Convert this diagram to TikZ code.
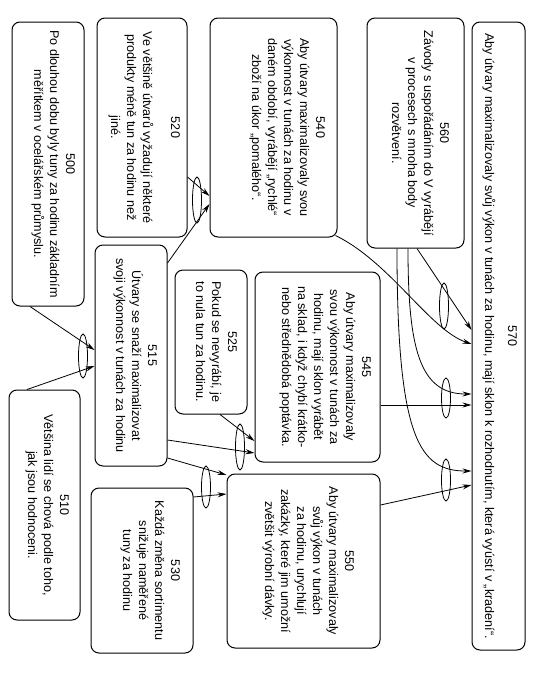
\documentclass[tikz,border=0pt]{standalone}
\usepackage{fontspec}
\setmainfont{Liberation Sans}
\usetikzlibrary{shapes.geometric,arrows.meta,calc}
\begin{document}
\begin{tikzpicture}[x=1pt,y=-1pt,
  box/.style={draw, rounded corners=8pt, line width=1pt, inner sep=0pt},
  txt/.style={rotate=-90, anchor=north, align=center, inner sep=0pt, font=\fontsize{12.6}{16}\selectfont},
  link/.style={line width=0.8pt, -{Stealth[length=9pt,width=5pt]}},
  andel/.style={ellipse, draw, line width=0.8pt, inner sep=0pt, minimum width=9pt}]
\fill[white] (0,0) rectangle (537,673);
\useasboundingbox (0,0) rectangle (537,673);
% boxes
\node[box, minimum width=72pt, minimum height=284pt] (b500) at (48,164) {};
\node[box, minimum width=71pt, minimum height=230pt] (b510) at (44.5,505) {};
\node[box, minimum width=72pt, minimum height=221pt] (b515) at (131,355.5) {};
\node[box, minimum width=90pt, minimum height=219pt] (b520) at (142,127.5) {};
\node[box, minimum width=72pt, minimum height=144pt] (b525) at (211,342) {};
\node[box, minimum width=102pt, minimum height=165pt] (b530) at (142,570.5) {};
\node[box, minimum width=127pt, minimum height=219pt] (b540) at (273.5,127.5) {};
\node[box, minimum width=125pt, minimum height=190pt] (b545) at (317.5,367) {};
\node[box, minimum width=153pt, minimum height=174pt] (b550) at (303.5,561) {};
\node[box, minimum width=97pt, minimum height=230pt] (b560) at (415.5,133) {};
\node[box, minimum width=53pt, minimum height=628pt] (b570) at (498.5,336) {};
% texts
\node[txt] (t500) at (75,164) {500\\Po dlouhou dobu byly tuny za hodinu základním\\měřítkem v ocelářském průmyslu.};
\node[txt] (t510) at (69,505) {510\\Většina lidí se chová podle toho,\\jak jsou hodnoceni.};
\node[txt] (t515) at (157,355.5) {515\\Útvary se snaží maximalizovat\\svoji výkonnost v tunách za hodinu};
\node[txt] (t520) at (180,127.5) {520\\[12pt]Ve většině útvarů vyžadují některé\\produkty méně tun za hodinu než\\jiné.};
\node[txt] (t525) at (237,342) {525\\Pokud se nevyrábí, je\\to nula tun za hodinu.};
\node[txt] (t530) at (180,570.5) {530\\Každá změna sortimentu\\snižuje naměřené\\tuny za hodinu};
\node[txt] (t540) at (325,127.5) {540\\Aby útvary maximalizovaly svou\\výkonnost v tunách za hodinu v\\daném období, vyrábějí „rychlé“\\zboží na úkor „pomalého“.};
\node[txt] (t545) at (371,367) {545\\Aby útvary maximalizovaly\\svou výkonnost v tunách za\\hodinu, mají sklon vyrábět\\na sklad, i když chybí krátko-\\nebo střednědobá poptávka.};
\node[txt] (t550) at (354,561) {550\\Aby útvary maximalizovaly\\svůj výkon v tunách\\za hodinu, urychlují\\zakázky, které jim umožní\\zvětšit výrobní dávky.};
\node[txt] (t560) at (449,133) {560\\Závody s uspořádáním do V vyrábějí\\v procesech s mnoha body\\rozvětvení.};
\node[txt] (t570) at (517,336) {570\\[7pt]Aby útvary maximalizovaly svůj výkon v tunách za hodinu, mají sklon k rozhodnutím, která vyústí v „kradení“.};
% AND ellipses
\node[andel, minimum height=44pt] (e1) at (83,356) {};
\node[andel, minimum height=46pt] (e2) at (197,200) {};
\node[andel, minimum height=46pt] (e3) at (444,306) {};
\node[andel, minimum height=40pt] (e4) at (446,398) {};
\node[andel, minimum height=42pt] (e5) at (446,480) {};
\node[andel, minimum height=46pt] (e6) at (240,447) {};
\node[andel, minimum height=42pt] (e7) at (206,487) {};
% connectors
\draw[link] (b500.south -| 30,0) -- (b515.west |- 0,350);
\draw[link] (b510.north -| 27,0) -- (b515.west |- 0,366);
\draw[link] (b520.east |- 0,177) -- (b540.west |- 0,196);
\draw[link] (b515.east |- 0,263) -- (b540.west |- 0,204);
\draw[link] (b560.south -| 417,0) -- (b570.west |- 0,330);
\draw[link] ($(b540.south east)+(-2,-2)$) .. controls (390,262) and (430,330) .. (b570.west |- 0,344);
\draw[link] (b560.south -| 408,0) .. controls (408,350) and (420,394) .. (b570.west |- 0,394);
\draw[link] (b545.east |- 0,405) -- (b570.west |- 0,405);
\draw[link] (b560.south -| 397,0) .. controls (397,440) and (420,471) .. (b570.west |- 0,471);
\draw[link] (b550.east |- 0,505) -- (b570.west |- 0,485);
\draw[link] (b525.south -| 220,0) -- (b545.west |- 0,441);
\draw[link] (b515.east |- 0,440) -- (b545.west |- 0,453);
\draw[link] (b515.east |- 0,458) -- (b550.west |- 0,475);
\draw[link] (b530.east |- 0,497) -- (b550.west |- 0,494);
\end{tikzpicture}
\end{document}
